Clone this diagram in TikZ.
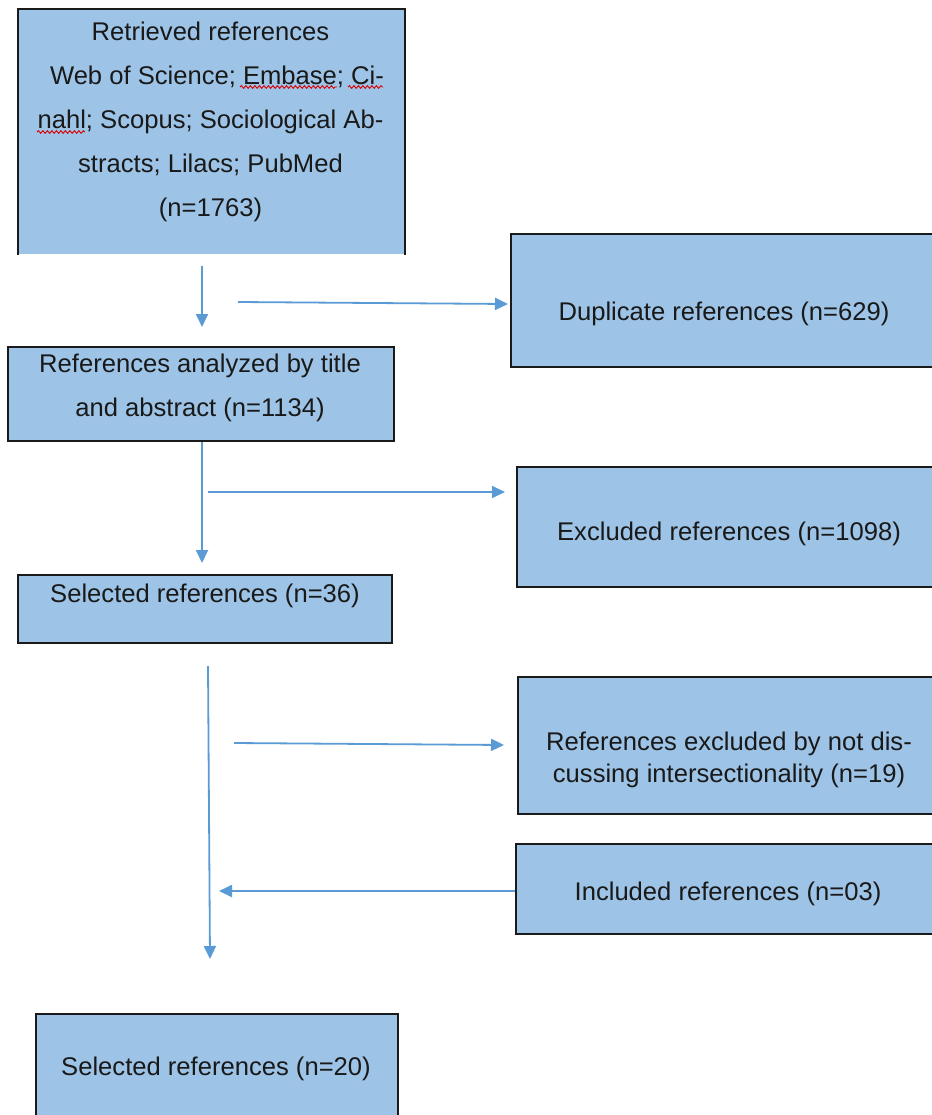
\documentclass[tikz,border=0pt]{standalone}
\usepackage{fontspec}
\setmainfont{Liberation Sans}
\usetikzlibrary{arrows.meta,decorations.pathmorphing}
\definecolor{boxfill}{HTML}{9DC3E6}
\definecolor{arrowblue}{HTML}{5B9BD5}
\definecolor{boxline}{HTML}{1A1A1A}
\begin{document}
\begin{tikzpicture}[x=1pt,y=-1pt,
  box/.style={fill=boxfill, draw=boxline, line width=1.8pt, inner sep=0pt, anchor=north west},
  txt/.style={font=\fontsize{25.6}{44}\selectfont, inner sep=0pt, align=center, text=black!90},
  txtb/.style={txt, anchor=base},
  flow/.style={draw=arrowblue, line width=1.8pt, -{Triangle[length=13pt,width=12pt]}},
  wave/.style={draw=red!85!black, line width=0.9pt, decorate, decoration={snake, amplitude=1.3pt, segment length=4.5pt}}]
\fill[white] (0,0) rectangle (931,1115);
\useasboundingbox (0,0) rectangle (931,1115);

% boxes
\node[box, draw=none, minimum width=385pt, minimum height=244pt] (b1) at (18,9) {};
\draw[boxline, line width=1.8pt] (b1.south west) |- (b1.north east) -- (b1.south east);
\node[box, minimum width=425pt, minimum height=133pt] (b2) at (510,233) {};
\node[box, minimum width=386pt, minimum height=94pt] (b3) at (7,346) {};
\node[box, minimum width=419pt, minimum height=120pt] (b4) at (516,466) {};
\node[box, minimum width=374pt, minimum height=68pt] (b5) at (17,574) {};
\node[box, minimum width=418pt, minimum height=137pt] (b6) at (517,676) {};
\node[box, minimum width=420pt, minimum height=90pt] (b7) at (515,843) {};
\node[box, minimum width=362pt, minimum height=110pt] (b8) at (35,1013) {};

% texts
\node[txt] (t1) at (210.5,121.4) {Retrieved references\\\hspace*{13pt}Web of Science; Embase; Ci-\\nahl; Scopus; Sociological Ab-\\stracts; Lilacs; PubMed\\(n=1763)};
\draw[wave] (240,87) -- (337,87);
\draw[wave] (348,87) -- (383,87);
\draw[wave] (37,132) -- (85,132);
\node[txtb] (t2) at (724,320) {Duplicate references (n=629)};
\node[txt] (t3) at (200,387.7) {References analyzed by title\\and abstract (n=1134)};
\node[txtb] (t4) at (729,540) {Excluded references (n=1098)};
\node[txtb] (t5) at (205,602) {Selected references (n=36)};
\node[txt, font=\fontsize{25.6}{32}\selectfont] (t6) at (729,760) {References excluded by not dis-\\cussing intersectionality (n=19)};
\node[txtb] (t7) at (728,900) {Included references (n=03)};
\node[txtb] (t8) at (216,1075) {Selected references (n=20)};

% connectors
\coordinate (a1s) at (202,266); \coordinate (a1e) at (202,327);
\draw[flow] (a1s) -- (a1e);
\coordinate (a2s) at (238,302); \coordinate (a2e) at (508,304);
\draw[flow] (a2s) -- (a2e);
\coordinate (a3e) at (202,563);
\draw[flow] (b3.south -| a3e) -- (a3e);
\coordinate (a4s) at (208,492); \coordinate (a4e) at (505,492);
\draw[flow] (a4s) -- (a4e);
\coordinate (a5s) at (208,666); \coordinate (a5e) at (210,959);
\draw[flow] (a5s) -- (a5e);
\coordinate (a6s) at (234,743); \coordinate (a6e) at (504,745);
\draw[flow] (a6s) -- (a6e);
\coordinate (a7e) at (219,891);
\draw[flow] (b7.west |- a7e) -- (a7e);
\end{tikzpicture}
\end{document}
